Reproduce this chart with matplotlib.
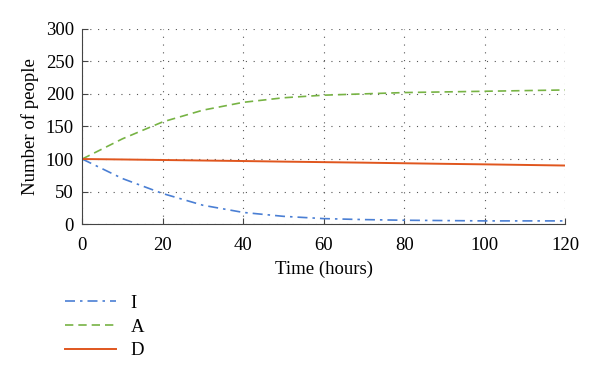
import numpy as np
import matplotlib
matplotlib.use('Agg')
import matplotlib.pyplot as plt

plt.rcParams['font.family'] = ['Liberation Serif', 'DejaVu Serif']

# values, every 10 hours
hours = [0, 10, 20, 30, 40, 50, 60, 70, 80, 90, 100, 110, 120]
I_vals = [100, 70, 47, 29, 18, 12, 8.5, 7, 6, 5.5, 5, 5, 5]
A_vals = [100, 131, 157, 175, 187, 194, 198, 200, 202, 203, 204, 205, 206]
D_vals = [100, 99.3, 98.5, 97.7, 96.9, 96.0, 95.2, 94.4, 93.5, 92.6, 91.8, 90.9, 90.0]

fs = 13.5
fig = plt.figure(figsize=(6, 3.78), dpi=100)
ax = fig.add_axes([0.137, 0.407, 0.805, 0.517])

ax.plot(hours, I_vals, color='#4a7fd4', ls=(0, (6, 3, 1.5, 3)), lw=1.2, label='I')
ax.plot(hours, A_vals, color='#77b344', ls=(0, (5, 3)), lw=1.2, label='A')
ax.plot(hours, D_vals, color='#e0561e', ls='-', lw=1.4, label='D')

ax.set_xlim(0, 120)
ax.set_ylim(0, 300)
ax.set_xticks(range(0, 121, 20))
ax.set_yticks(range(0, 301, 50))
ax.grid(True, color='#555555', ls=(0, (1, 6)), lw=0.8)
ax.tick_params(direction='in', labelsize=fs, length=4, color='#444444')
ax.tick_params(axis='x', pad=9)
ax.tick_params(axis='y', pad=6)
for s in ['top', 'right']:
    ax.spines[s].set_visible(False)
for s in ['left', 'bottom']:
    ax.spines[s].set_color('#444444')
ax.set_xlabel('Time (hours)', fontsize=fs, labelpad=5)
ax.set_ylabel('Number of people', fontsize=fs, labelpad=5)

fig.legend(loc='upper left', bbox_to_anchor=(0.08, 0.265), frameon=False,
           fontsize=fs, handlelength=2.7, labelspacing=0.35, handletextpad=0.8)

fig.savefig('out.png', dpi=100)
